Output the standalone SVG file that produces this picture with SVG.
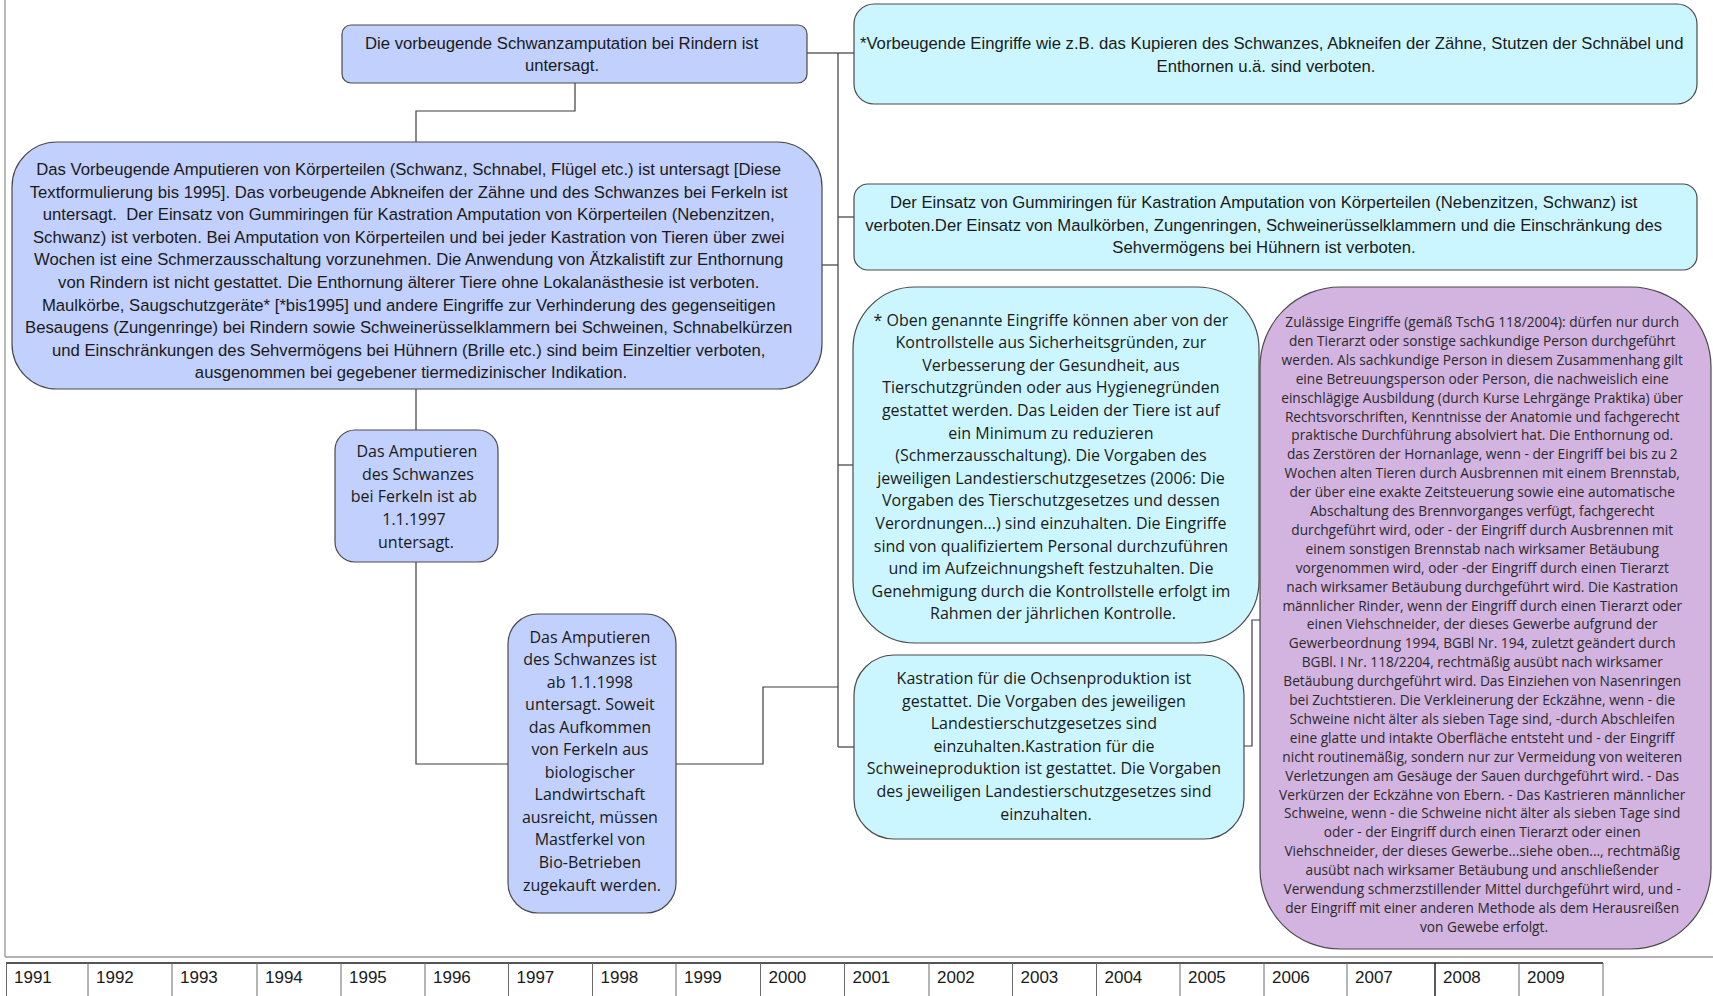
<svg xmlns="http://www.w3.org/2000/svg" width="1713" height="996" viewBox="0 0 1713 996">
<style>
.nb{fill:#c1d0fc;stroke:#4a4a4a;stroke-width:1.2}
.nc{fill:#ccf6ff;stroke:#4a4a4a;stroke-width:1.2}
.nl{fill:#d3b3df;stroke:#4a4a4a;stroke-width:1.2}
.tn{font-family:"Liberation Sans",Arial,sans-serif;fill:#1a1a1a;text-anchor:middle;font-size:16.7px}
.tw{font-family:"Open Sans","Liberation Sans",sans-serif;fill:#1a1a1a;text-anchor:middle;font-size:16px}
.ts{font-family:"Open Sans","Liberation Sans",sans-serif;fill:#2a2a2a;text-anchor:middle;font-size:13.7px}
.conn{fill:none;stroke:#3c3c3c;stroke-width:1.2}
.yr{font-family:"Liberation Sans",Arial,sans-serif;font-size:17px;fill:#1a1a1a}
.cell{stroke:#6a6a6a;stroke-width:1}
</style>

<g id="frame">
<line x1="5" y1="0" x2="5" y2="957" stroke="#8a8a8a" stroke-width="1.2"/>
<line x1="5" y1="957" x2="1713" y2="957" stroke="#9a9a9a" stroke-width="1.5"/>
</g>

<g id="connectors">
<path class="conn" d="M575 83V111H416V142"/>
<path class="conn" d="M416 389V430"/>
<path class="conn" d="M416 562V764H508"/>
<path class="conn" d="M676 764H763V687H838"/>
<path class="conn" d="M807 53H838"/>
<path class="conn" d="M822 265H838"/>
<path class="conn" d="M838 53V747"/>
<path class="conn" d="M838 53H854"/>
<path class="conn" d="M838 217H854"/>
<path class="conn" d="M838 465H853"/>
<path class="conn" d="M838 747H854"/>
<path class="conn" d="M1244 746H1252V620H1260"/>
</g>

<g id="nodeA">
<rect class="nb" x="342" y="25" width="465" height="58" rx="9"/>
<text class="tn">
<tspan x="564" y="49">Die vorbeugende Schwanzamputation bei Rindern ist</tspan>
<tspan x="562" y="71">untersagt.</tspan>
</text>
</g>

<g id="nodeB">
<rect class="nb" x="12" y="142" width="810" height="247" rx="45"/>
<text class="tn">
<tspan x="411" y="175">Das Vorbeugende Amputieren von Körperteilen (Schwanz, Schnabel, Flügel etc.) ist untersagt [Diese</tspan>
<tspan x="411" y="197.6">Textformulierung bis 1995]. Das vorbeugende Abkneifen der Zähne und des Schwanzes bei Ferkeln ist</tspan>
<tspan x="411" y="220.2">untersagt.&#160; Der Einsatz von Gummiringen für Kastration Amputation von Körperteilen (Nebenzitzen,</tspan>
<tspan x="411" y="242.8">Schwanz) ist verboten. Bei Amputation von Körperteilen und bei jeder Kastration von Tieren über zwei</tspan>
<tspan x="411" y="265.4">Wochen ist eine Schmerzausschaltung vorzunehmen. Die Anwendung von Ätzkalistift zur Enthornung</tspan>
<tspan x="411" y="288">von Rindern ist nicht gestattet. Die Enthornung älterer Tiere ohne Lokalanästhesie ist verboten.</tspan>
<tspan x="411" y="310.6">Maulkörbe, Saugschutzgeräte* [*bis1995] und andere Eingriffe zur Verhinderung des gegenseitigen</tspan>
<tspan x="411" y="333.2">Besaugens (Zungenringe) bei Rindern sowie Schweinerüsselklammern bei Schweinen, Schnabelkürzen</tspan>
<tspan x="411" y="355.8">und Einschränkungen des Sehvermögens bei Hühnern (Brille etc.) sind beim Einzeltier verboten,</tspan>
<tspan x="411" y="378.4">ausgenommen bei gegebener tiermedizinischer Indikation.</tspan>
</text>
</g>

<g id="nodeH">
<rect class="nb" x="335" y="430" width="163" height="132" rx="20"/>
<text class="tw">
<tspan x="419" y="456.5">Das Amputieren</tspan>
<tspan x="420" y="479.5">des Schwanzes</tspan>
<tspan x="416" y="501.5">bei Ferkeln ist ab</tspan>
<tspan x="416" y="524.5">1.1.1997</tspan>
<tspan x="416" y="547.5">untersagt.</tspan>
</text>
</g>

<g id="nodeI">
<rect class="nb" x="508" y="614" width="168" height="299" rx="30"/>
<text class="tw">
<tspan x="592" y="642.5">Das Amputieren</tspan>
<tspan x="592" y="665">des Schwanzes ist</tspan>
<tspan x="592" y="687.6">ab 1.1.1998</tspan>
<tspan x="592" y="710.1">untersagt. Soweit</tspan>
<tspan x="592" y="732.7">das Aufkommen</tspan>
<tspan x="592" y="755.2">von Ferkeln aus</tspan>
<tspan x="592" y="777.8">biologischer</tspan>
<tspan x="592" y="800.3">Landwirtschaft</tspan>
<tspan x="592" y="822.9">ausreicht, müssen</tspan>
<tspan x="592" y="845.4">Mastferkel von</tspan>
<tspan x="592" y="868">Bio-Betrieben</tspan>
<tspan x="592" y="890.5">zugekauft werden.</tspan>
</text>
</g>

<g id="nodeF">
<rect class="nc" x="854" y="4" width="843" height="100" rx="20"/>
<text class="tn">
<tspan x="1274" y="49">*Vorbeugende Eingriffe wie z.B. das Kupieren des Schwanzes, Abkneifen der Zähne, Stutzen der Schnäbel und</tspan>
<tspan x="1266" y="72">Enthornen u.ä. sind verboten.</tspan>
</text>
</g>

<g id="nodeG">
<rect class="nc" x="854" y="184" width="843" height="86" rx="14"/>
<text class="tn">
<tspan x="1266" y="208">Der Einsatz von Gummiringen für Kastration Amputation von Körperteilen (Nebenzitzen, Schwanz) ist</tspan>
<tspan x="1266" y="230.5">verboten.Der Einsatz von Maulkörben, Zungenringen, Schweinerüsselklammern und die Einschränkung des</tspan>
<tspan x="1264" y="253">Sehvermögens bei Hühnern ist verboten.</tspan>
</text>
</g>

<g id="nodeC">
<rect class="nc" x="853" y="287" width="406" height="356" rx="62"/>
<text class="tw">
<tspan x="1053" y="325.5">* Oben genannte Eingriffe können aber von der</tspan>
<tspan x="1053" y="348.1">Kontrollstelle aus Sicherheitsgründen, zur</tspan>
<tspan x="1053" y="370.7">Verbesserung der Gesundheit, aus</tspan>
<tspan x="1053" y="393.3">Tierschutzgründen oder aus Hygienegründen</tspan>
<tspan x="1053" y="415.9">gestattet werden. Das Leiden der Tiere ist auf</tspan>
<tspan x="1053" y="438.5">ein Minimum zu reduzieren</tspan>
<tspan x="1053" y="461.1">(Schmerzausschaltung). Die Vorgaben des</tspan>
<tspan x="1053" y="483.7">jeweiligen Landestierschutzgesetzes (2006: Die</tspan>
<tspan x="1053" y="506.3">Vorgaben des Tierschutzgesetzes und dessen</tspan>
<tspan x="1053" y="528.9">Verordnungen...) sind einzuhalten. Die Eingriffe</tspan>
<tspan x="1053" y="551.5">sind von qualifiziertem Personal durchzuführen</tspan>
<tspan x="1053" y="574.1">und im Aufzeichnungsheft festzuhalten. Die</tspan>
<tspan x="1053" y="596.7">Genehmigung durch die Kontrollstelle erfolgt im</tspan>
<tspan x="1053" y="619.3">Rahmen der jährlichen Kontrolle.</tspan>
</text>
</g>

<g id="nodeD">
<rect class="nc" x="854" y="655" width="390" height="184" rx="40"/>
<text class="tw">
<tspan x="1046" y="684">Kastration für die Ochsenproduktion ist</tspan>
<tspan x="1046" y="706.6">gestattet. Die Vorgaben des jeweiligen</tspan>
<tspan x="1046" y="729.2">Landestierschutzgesetzes sind</tspan>
<tspan x="1046" y="751.8">einzuhalten.Kastration für die</tspan>
<tspan x="1046" y="774.4">Schweineproduktion ist gestattet. Die Vorgaben</tspan>
<tspan x="1046" y="797">des jeweiligen Landestierschutzgesetzes sind</tspan>
<tspan x="1046" y="819.6">einzuhalten.</tspan>
</text>
</g>

<g id="nodeE">
<rect class="nl" x="1260" y="287" width="451" height="662" rx="80"/>
<text class="ts">
<tspan x="1484" y="327">Zulässige Eingriffe (gemäß TschG 118/2004): dürfen nur durch</tspan>
<tspan x="1484" y="345.9">den Tierarzt oder sonstige sachkundige Person durchgeführt</tspan>
<tspan x="1484" y="364.8">werden. Als sachkundige Person in diesem Zusammenhang gilt</tspan>
<tspan x="1484" y="383.7">eine Betreuungsperson oder Person, die nachweislich eine</tspan>
<tspan x="1484" y="402.6">einschlägige Ausbildung (durch Kurse Lehrgänge Praktika) über</tspan>
<tspan x="1484" y="421.5">Rechtsvorschriften, Kenntnisse der Anatomie und fachgerecht</tspan>
<tspan x="1484" y="440.4">praktische Durchführung absolviert hat. Die Enthornung od.</tspan>
<tspan x="1484" y="459.3">das Zerstören der Hornanlage, wenn - der Eingriff bei bis zu 2</tspan>
<tspan x="1484" y="478.2">Wochen alten Tieren durch Ausbrennen mit einem Brennstab,</tspan>
<tspan x="1484" y="497.1">der über eine exakte Zeitsteuerung sowie eine automatische</tspan>
<tspan x="1484" y="516">Abschaltung des Brennvorganges verfügt, fachgerecht</tspan>
<tspan x="1484" y="534.9">durchgeführt wird, oder - der Eingriff durch Ausbrennen mit</tspan>
<tspan x="1484" y="553.8">einem sonstigen Brennstab nach wirksamer Betäubung</tspan>
<tspan x="1484" y="572.7">vorgenommen wird, oder -der Eingriff durch einen Tierarzt</tspan>
<tspan x="1484" y="591.6">nach wirksamer Betäubung durchgeführt wird. Die Kastration</tspan>
<tspan x="1484" y="610.5">männlicher Rinder, wenn der Eingriff durch einen Tierarzt oder</tspan>
<tspan x="1484" y="629.4">einen Viehschneider, der dieses Gewerbe aufgrund der</tspan>
<tspan x="1484" y="648.3">Gewerbeordnung 1994, BGBl Nr. 194, zuletzt geändert durch</tspan>
<tspan x="1484" y="667.2">BGBl. I Nr. 118/2204, rechtmäßig ausübt nach wirksamer</tspan>
<tspan x="1484" y="686.1">Betäubung durchgeführt wird. Das Einziehen von Nasenringen</tspan>
<tspan x="1484" y="705">bei Zuchtstieren. Die Verkleinerung der Eckzähne, wenn - die</tspan>
<tspan x="1484" y="723.9">Schweine nicht älter als sieben Tage sind, -durch Abschleifen</tspan>
<tspan x="1484" y="742.8">eine glatte und intakte Oberfläche entsteht und - der Eingriff</tspan>
<tspan x="1484" y="761.7">nicht routinemäßig, sondern nur zur Vermeidung von weiteren</tspan>
<tspan x="1484" y="780.6">Verletzungen am Gesäuge der Sauen durchgeführt wird. - Das</tspan>
<tspan x="1484" y="799.5">Verkürzen der Eckzähne von Ebern. - Das Kastrieren männlicher</tspan>
<tspan x="1484" y="818.4">Schweine, wenn - die Schweine nicht älter als sieben Tage sind</tspan>
<tspan x="1484" y="837.3">oder - der Eingriff durch einen Tierarzt oder einen</tspan>
<tspan x="1484" y="856.2">Viehschneider, der dieses Gewerbe...siehe oben..., rechtmäßig</tspan>
<tspan x="1484" y="875.1">ausübt nach wirksamer Betäubung und anschließender</tspan>
<tspan x="1484" y="894">Verwendung schmerzstillender Mittel durchgeführt wird, und -</tspan>
<tspan x="1484" y="912.9">der Eingriff mit einer anderen Methode als dem Herausreißen</tspan>
<tspan x="1484" y="931.8">von Gewebe erfolgt.</tspan>
</text>
</g>

<g id="timeline">
<line x1="6" y1="963" x2="1603" y2="963" stroke="#555" stroke-width="2"/>
<g class="cell">
<line x1="6.5" y1="963" x2="6.5" y2="996"/>
<line x1="88" y1="963" x2="88" y2="996"/>
<line x1="172" y1="963" x2="172" y2="996"/>
<line x1="257" y1="963" x2="257" y2="996"/>
<line x1="341" y1="963" x2="341" y2="996"/>
<line x1="425" y1="963" x2="425" y2="996"/>
<line x1="508.5" y1="963" x2="508.5" y2="996"/>
<line x1="592.5" y1="963" x2="592.5" y2="996"/>
<line x1="676" y1="963" x2="676" y2="996"/>
<line x1="760.5" y1="963" x2="760.5" y2="996"/>
<line x1="844.5" y1="963" x2="844.5" y2="996"/>
<line x1="929" y1="963" x2="929" y2="996"/>
<line x1="1012.5" y1="963" x2="1012.5" y2="996"/>
<line x1="1096.5" y1="963" x2="1096.5" y2="996"/>
<line x1="1180" y1="963" x2="1180" y2="996"/>
<line x1="1264" y1="963" x2="1264" y2="996"/>
<line x1="1347" y1="963" x2="1347" y2="996"/>
<line x1="1435" y1="963" x2="1435" y2="996" stroke="#222" stroke-width="1.5"/>
<line x1="1519" y1="963" x2="1519" y2="996"/>
<line x1="1603" y1="963" x2="1603" y2="996"/>
</g>
<text class="yr" x="14" y="983">1991</text>
<text class="yr" x="96" y="983">1992</text>
<text class="yr" x="180" y="983">1993</text>
<text class="yr" x="265" y="983">1994</text>
<text class="yr" x="349" y="983">1995</text>
<text class="yr" x="433" y="983">1996</text>
<text class="yr" x="516.5" y="983">1997</text>
<text class="yr" x="600.5" y="983">1998</text>
<text class="yr" x="684" y="983">1999</text>
<text class="yr" x="768.5" y="983">2000</text>
<text class="yr" x="852.5" y="983">2001</text>
<text class="yr" x="937" y="983">2002</text>
<text class="yr" x="1020.5" y="983">2003</text>
<text class="yr" x="1104.5" y="983">2004</text>
<text class="yr" x="1188" y="983">2005</text>
<text class="yr" x="1272" y="983">2006</text>
<text class="yr" x="1355" y="983">2007</text>
<text class="yr" x="1443" y="983">2008</text>
<text class="yr" x="1527" y="983">2009</text>
</g>
</svg>
